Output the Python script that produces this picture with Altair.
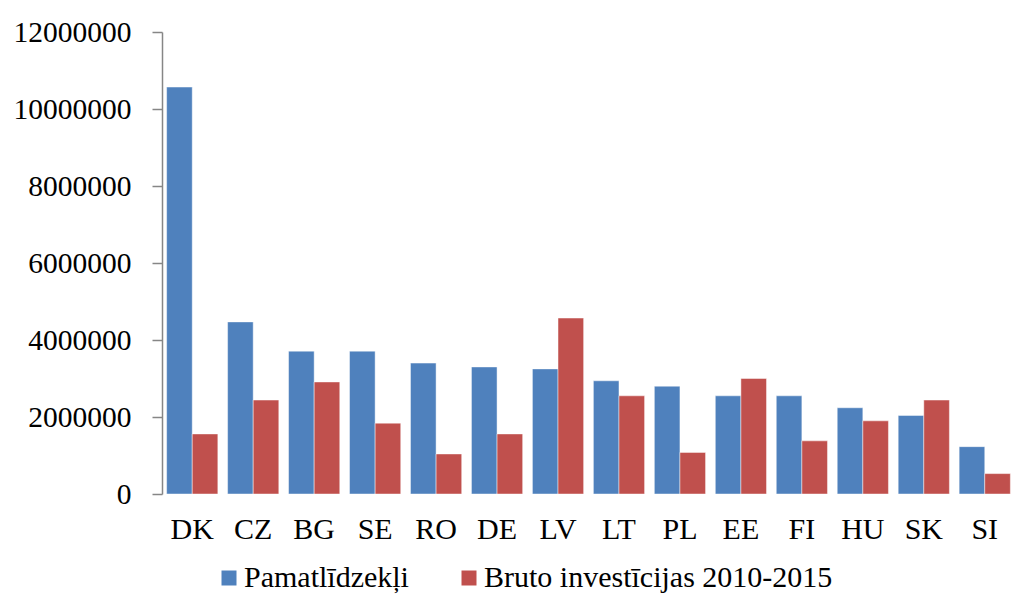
import altair as alt
import pandas as pd

countries = ["DK", "CZ", "BG", "SE", "RO", "DE", "LV", "LT", "PL", "EE", "FI", "HU", "SK", "SI"]
pamat = [10570000, 4470000, 3710000, 3710000, 3400000, 3300000, 3250000, 2940000, 2800000, 2550000, 2550000, 2240000, 2040000, 1230000]
bruto = [1560000, 2440000, 2910000, 1840000, 1040000, 1560000, 4570000, 2550000, 1080000, 3000000, 1380000, 1900000, 2440000, 530000]
series = ["Pamatlīdzekļi", "Bruto investīcijas 2010-2015"]
y_ticks = [0, 2000000, 4000000, 6000000, 8000000, 10000000, 12000000]

rows = []
for i, c in enumerate(countries):
    rows.append({"country": c, "series": series[0], "value": pamat[i]})
    rows.append({"country": c, "series": series[1], "value": bruto[i]})
df = pd.DataFrame(rows)

FONT = "Liberation Serif"

chart = alt.Chart(df).mark_bar(strokeWidth=1, stroke="white", strokeOpacity=0.45).encode(
    x=alt.X("country:N", sort=countries, title=None,
            scale=alt.Scale(paddingInner=0.16, paddingOuter=0.076),
            axis=alt.Axis(labelAngle=0, domain=False, ticks=False, labelPadding=20,
                          labelFontSize=30, labelFont=FONT, labelColor="black")),
    xOffset=alt.XOffset("series:N", sort=series, scale=alt.Scale(paddingInner=0, paddingOuter=0)),
    y=alt.Y("value:Q", title=None,
            scale=alt.Scale(domain=[0, 12000000], nice=False),
            axis=alt.Axis(values=y_ticks, format="d", grid=False, domainColor="#868686",
                          domainWidth=1.5, tickColor="#868686", tickWidth=1.5, tickSize=10,
                          labelPadding=21, labelFontSize=29.5, labelFont=FONT, labelColor="black")),
    color=alt.Color("series:N", sort=series, title=None,
                    scale=alt.Scale(domain=series, range=["#4F81BD", "#C0504D"]),
                    legend=alt.Legend(orient="none", legendX=52, legendY=531, direction="horizontal",
                                      symbolType="square", symbolSize=225, symbolStrokeWidth=0,
                                      labelFontSize=30, labelFont=FONT, labelColor="black",
                                      labelLimit=600, labelOffset=0, columnPadding=45, padding=0)),
).properties(
    width=853, height=462,
    background="white",
    autosize=alt.AutoSizeParams(type="none"),
    padding={"left": 154, "top": 24, "right": 0, "bottom": 100},
).configure_view(stroke=None).configure_legend(
    labelFont=FONT, labelFontSize=30, labelColor="black", labelLimit=600
)

chart.save("out.html", embed_options={"renderer": "svg", "actions": False})
